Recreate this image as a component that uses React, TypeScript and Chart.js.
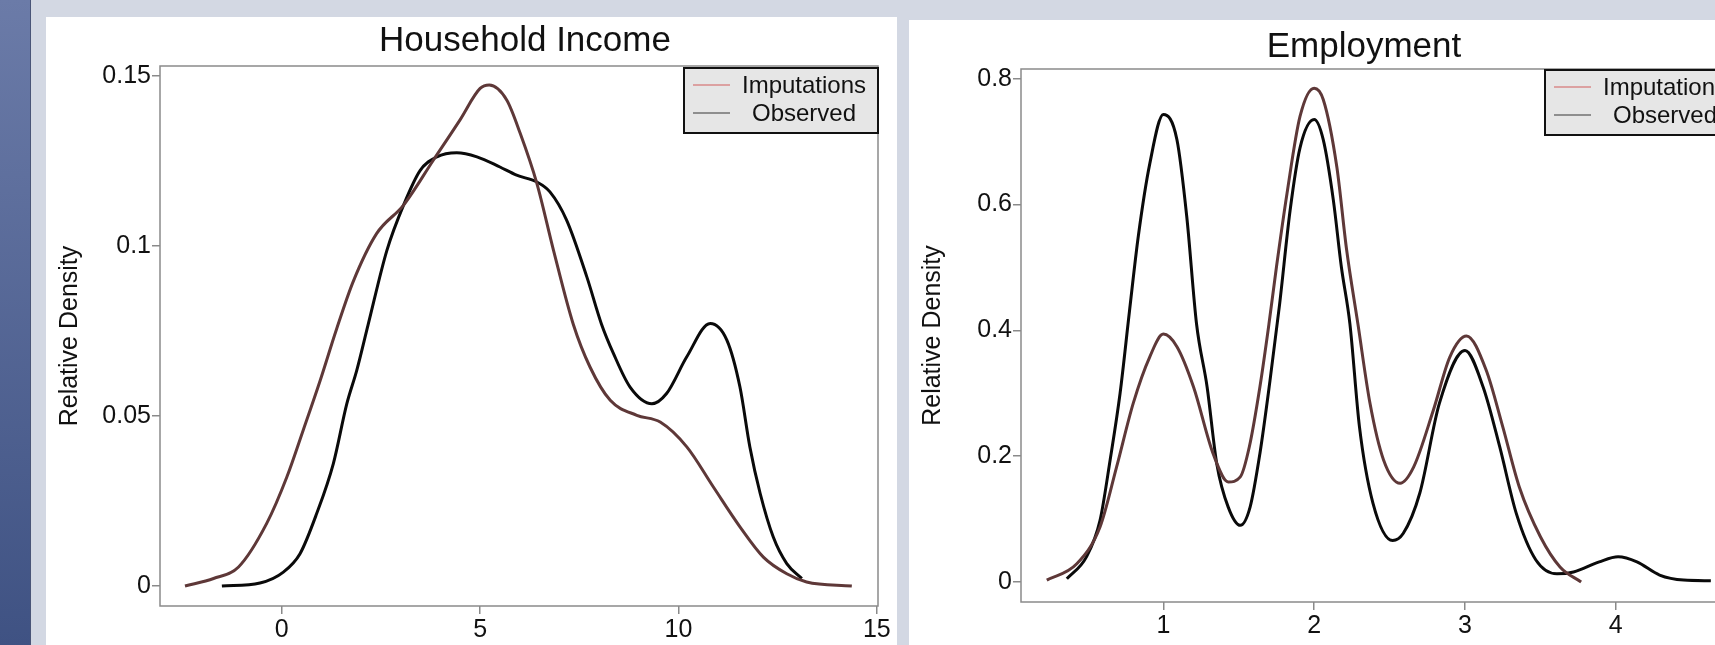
import React, { useEffect, useRef } from "react";
import { Chart, registerables } from "chart.js";

Chart.register(...registerables);

const FONT = '"Liberation Sans", Arial, Helvetica, sans-serif';
Chart.defaults.font.family = FONT;

// ---------- Household Income ----------
const incomeTitle = "Household Income";
const incomeXTicks = [0, 5, 10, 15];
const incomeXTickLabels = ["0", "5", "10", "15"];
const incomeYTicks = [0, 0.05, 0.1, 0.15];
const incomeYTickLabels = ["0", "0.05", "0.1", "0.15"];

const incomeImpX = [-2.44, -1.72, -1.09, -0.38, 0.13, 0.54, 0.97, 1.38, 1.8, 2.39, 3.07, 3.82, 4.49, 5.0, 5.23, 5.67, 6.01, 6.43, 6.85, 7.35, 7.77, 8.28, 8.95, 9.54, 10.21, 10.88, 11.55, 12.14, 12.73, 13.23, 14.37];
const incomeImpY = [0, 0.0022, 0.0056, 0.0184, 0.0321, 0.0458, 0.0605, 0.0755, 0.0895, 0.1036, 0.112, 0.1252, 0.137, 0.1463, 0.1473, 0.1429, 0.1331, 0.1184, 0.0987, 0.0769, 0.0644, 0.0546, 0.0502, 0.0482, 0.0409, 0.0291, 0.0174, 0.0085, 0.0036, 0.0012, 0.0];

const incomeObsX = [-1.51, -0.55, 0.04, 0.46, 0.88, 1.3, 1.64, 1.89, 2.18, 2.65, 3.07, 3.49, 3.91, 4.41, 4.92, 5.5, 5.92, 6.43, 6.76, 7.18, 7.69, 8.06, 8.36, 8.78, 9.33, 9.7, 10.21, 10.8, 11.22, 11.55, 11.8, 12.06, 12.39, 12.73, 13.11];
const incomeObsY = [0, 0.0009, 0.0041, 0.0095, 0.0213, 0.036, 0.0536, 0.0634, 0.077, 0.0987, 0.112, 0.1222, 0.1262, 0.1274, 0.1262, 0.1232, 0.1208, 0.1188, 0.1159, 0.1076, 0.0909, 0.077, 0.0684, 0.0585, 0.0536, 0.0566, 0.0674, 0.0772, 0.0723, 0.0585, 0.0409, 0.0272, 0.0144, 0.0066, 0.0022];

// ---------- Employment ----------
const employTitle = "Employment";
const employXTicks = [1, 2, 3, 4];
const employXTickLabels = ["1", "2", "3", "4"];
const employYTicks = [0, 0.2, 0.4, 0.6, 0.8];
const employYTickLabels = ["0", "0.2", "0.4", "0.6", "0.8"];

const employImpX = [0.227, 0.426, 0.58, 0.69, 0.8, 0.91, 1.0, 1.09, 1.2, 1.33, 1.43, 1.51, 1.57, 1.64, 1.7, 1.75, 1.82, 1.906, 2.0, 2.06, 2.15, 2.215, 2.29, 2.37, 2.46, 2.57, 2.66, 2.79, 2.9, 3.01, 3.14, 3.25, 3.36, 3.5, 3.63, 3.77];
const employImpY = [0.003, 0.029, 0.0875, 0.183, 0.284, 0.358, 0.394, 0.374, 0.31, 0.204, 0.159, 0.167, 0.215, 0.31, 0.41, 0.501, 0.618, 0.74, 0.785, 0.767, 0.66, 0.528, 0.41, 0.284, 0.194, 0.157, 0.183, 0.273, 0.358, 0.391, 0.337, 0.247, 0.151, 0.072, 0.024, 0.0];

const employObsX = [0.36, 0.49, 0.58, 0.647, 0.713, 0.775, 0.834, 0.91, 1.0, 1.09, 1.155, 1.22, 1.29, 1.354, 1.43, 1.51, 1.575, 1.64, 1.707, 1.77, 1.84, 1.906, 2.0, 2.06, 2.127, 2.18, 2.237, 2.3, 2.39, 2.52, 2.59, 2.7, 2.83, 3.0, 3.12, 3.23, 3.34, 3.47, 3.61, 3.72, 3.89, 4.015, 4.14, 4.29, 4.45, 4.63];
const employObsY = [0.005, 0.04, 0.098, 0.194, 0.3, 0.43, 0.55, 0.665, 0.743, 0.703, 0.581, 0.41, 0.31, 0.188, 0.119, 0.09, 0.119, 0.204, 0.32, 0.44, 0.59, 0.69, 0.735, 0.703, 0.607, 0.501, 0.41, 0.247, 0.125, 0.066, 0.077, 0.141, 0.284, 0.368, 0.31, 0.215, 0.109, 0.035, 0.013, 0.016, 0.032, 0.04, 0.032, 0.011, 0.003, 0.002];

const seriesLabels = ["Imputations", "Observed"];
const yAxisTitle = "Relative Density";

const toPoints = (xs: number[], ys: number[]) => xs.map((x, i) => ({ x, y: ys[i] }));

const AXIS_GRAY = "#8a8a8a";
const TEXT = "#111111";
const TICK_SIZE = 25;

const framePlugin = {
  id: "frame",
  beforeDatasetsDraw(chart: any) {
    const { ctx, chartArea: a } = chart;
    ctx.save();
    ctx.strokeStyle = AXIS_GRAY;
    ctx.lineWidth = 1.5;
    ctx.strokeRect(a.left, a.top, a.right - a.left, a.bottom - a.top);
    ctx.restore();
  },
};

const decorPlugin = {
  id: "decor",
  afterDraw(chart: any, _args: any, opts: any) {
    const ctx = chart.ctx;
    ctx.save();
    ctx.font = `35px ${FONT}`;
    ctx.fillStyle = TEXT;
    ctx.textAlign = "center";
    ctx.textBaseline = "middle";
    ctx.fillText(opts.title, opts.titleX, opts.titleY);

    const x = opts.legendX;
    const y = opts.legendY;
    const w = 194;
    const h = 65;
    ctx.fillStyle = "#e6e6e6";
    ctx.fillRect(x, y, w, h);
    ctx.strokeStyle = "#111";
    ctx.lineWidth = 2;
    ctx.strokeRect(x, y, w, h);
    chart.data.datasets.forEach((ds: any, i: number) => {
      const cy = y + 17 + i * 28;
      ctx.strokeStyle = ds.legendColor;
      ctx.lineWidth = 1.5;
      ctx.beginPath();
      ctx.moveTo(x + 9, cy);
      ctx.lineTo(x + 46, cy);
      ctx.stroke();
      ctx.fillStyle = TEXT;
      ctx.font = `24px ${FONT}`;
      ctx.textAlign = "center";
      ctx.fillText(ds.label, x + 120, cy + 1);
    });
    ctx.restore();
  },
};

type Cfg = {
  title: string;
  titleX: number;
  titleY: number;
  legendX: number;
  legendY: number;
  impX: number[];
  impY: number[];
  obsX: number[];
  obsY: number[];
  xMin: number;
  xMax: number;
  yMin: number;
  yMax: number;
  xTicks: number[];
  xTickLabels: string[];
  yTicks: number[];
  yTickLabels: string[];
  yAxisWidth: number;
  xAxisHeight: number;
  width: number;
  height: number;
};

function buildConfig(c: Cfg): any {
  return {
    type: "line",
    data: {
      datasets: [
        {
          label: seriesLabels[0],
          data: toPoints(c.impX, c.impY),
          borderColor: "#5e3838",
          legendColor: "#d98a8a",
          borderWidth: 3,
          pointRadius: 0,
          cubicInterpolationMode: "monotone",
          fill: false,
        },
        {
          label: seriesLabels[1],
          data: toPoints(c.obsX, c.obsY),
          borderColor: "#0a0a0a",
          legendColor: "#707070",
          borderWidth: 3,
          pointRadius: 0,
          cubicInterpolationMode: "monotone",
          fill: false,
        },
      ],
    },
    options: {
      responsive: false,
      animation: false,
      events: [],
      layout: { padding: { top: 49, right: 19, left: 0, bottom: 0 } },
      plugins: {
        legend: { display: false },
        tooltip: { enabled: false },
        title: { display: false },
        decor: {
          title: c.title,
          titleX: c.titleX,
          titleY: c.titleY,
          legendX: c.legendX,
          legendY: c.legendY,
        },
      },
      scales: {
        x: {
          type: "linear",
          min: c.xMin,
          max: c.xMax,
          afterBuildTicks: (s: any) => {
            s.ticks = c.xTicks.map((v) => ({ value: v }));
          },
          afterFit: (s: any) => {
            s.height = c.xAxisHeight;
          },
          border: { display: false },
          grid: {
            display: true,
            drawOnChartArea: false,
            drawTicks: true,
            tickLength: 8,
            color: AXIS_GRAY,
            lineWidth: 1.5,
          },
          ticks: {
            autoSkip: false,
            maxRotation: 0,
            padding: 1,
            color: TEXT,
            font: { size: TICK_SIZE, family: FONT },
            callback: (_v: any, i: number) => c.xTickLabels[i],
          },
        },
        y: {
          type: "linear",
          min: c.yMin,
          max: c.yMax,
          afterBuildTicks: (s: any) => {
            s.ticks = c.yTicks.map((v) => ({ value: v }));
          },
          afterFit: (s: any) => {
            s.width = c.yAxisWidth;
          },
          border: { display: false },
          grid: {
            display: true,
            drawOnChartArea: false,
            drawTicks: true,
            tickLength: 8,
            color: AXIS_GRAY,
            lineWidth: 1.5,
          },
          ticks: {
            autoSkip: false,
            padding: 1,
            color: TEXT,
            font: { size: TICK_SIZE, family: FONT },
            callback: (_v: any, i: number) => c.yTickLabels[i],
          },
          title: {
            display: true,
            text: yAxisTitle,
            color: TEXT,
            font: { size: 25, family: FONT },
            padding: { top: 9, bottom: 0 },
          },
        },
      },
    },
    plugins: [framePlugin, decorPlugin],
  };
}

function DensityChart({ cfg }: { cfg: Cfg }) {
  const ref = useRef<HTMLCanvasElement | null>(null);
  useEffect(() => {
    if (!ref.current) return;
    const chart = new Chart(ref.current, buildConfig(cfg));
    return () => chart.destroy();
  }, []);
  return (
    <canvas
      ref={ref}
      width={cfg.width}
      height={cfg.height}
      style={{ display: "block", width: cfg.width, height: cfg.height }}
    />
  );
}

const incomeCfg: Cfg = {
  title: incomeTitle,
  titleX: 479,
  titleY: 24,
  legendX: 638,
  legendY: 51,
  impX: incomeImpX,
  impY: incomeImpY,
  obsX: incomeObsX,
  obsY: incomeObsY,
  xMin: -3.07,
  xMax: 15.03,
  yMin: -0.00588,
  yMax: 0.1529,
  xTicks: incomeXTicks,
  xTickLabels: incomeXTickLabels,
  yTicks: incomeYTicks,
  yTickLabels: incomeYTickLabels,
  yAxisWidth: 114,
  xAxisHeight: 39,
  width: 851,
  height: 628,
};

const employCfg: Cfg = {
  title: employTitle,
  titleX: 455,
  titleY: 27,
  legendX: 636,
  legendY: 50,
  impX: employImpX,
  impY: employImpY,
  obsX: employObsX,
  obsY: employObsY,
  xMin: 0.056,
  xMax: 4.83,
  yMin: -0.0318,
  yMax: 0.8154,
  xTicks: employXTicks,
  xTickLabels: employXTickLabels,
  yTicks: employYTicks,
  yTickLabels: employYTickLabels,
  yAxisWidth: 112,
  xAxisHeight: 43,
  width: 851,
  height: 625,
};

export default function App() {
  return (
    <div
      style={{
        position: "fixed",
        left: 0,
        top: 0,
        width: 1715,
        height: 645,
        overflow: "hidden",
        background: "#d3d8e3",
      }}
    >
      <div
        style={{
          position: "absolute",
          left: 0,
          top: 0,
          width: 30,
          height: 645,
          background: "linear-gradient(to bottom, #6b7ba8, #3f5283)",
          borderRight: "1.5px solid #4a5578",
        }}
      />
      <div
        style={{
          position: "absolute",
          left: 46,
          top: 17,
          width: 851,
          height: 628,
          background: "#ffffff",
        }}
      >
        <DensityChart cfg={incomeCfg} />
      </div>
      <div
        style={{
          position: "absolute",
          left: 909,
          top: 20,
          width: 851,
          height: 625,
          background: "#ffffff",
        }}
      >
        <DensityChart cfg={employCfg} />
      </div>
    </div>
  );
}
